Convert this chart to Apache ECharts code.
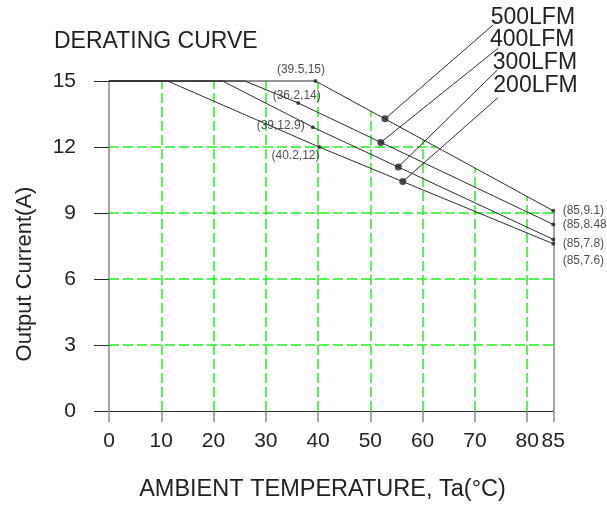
<!DOCTYPE html>
<html>
<head>
<meta charset="utf-8">
<script src="https://cdn.jsdelivr.net/npm/echarts@6/dist/echarts.min.js"></script>
<style>html,body{margin:0;padding:0;background:#fff}#c{width:607px;height:506px}</style>
</head>
<body>
<div id="c"></div>
<script>
// ---- data ----
const xTicks = [0, 10, 20, 30, 40, 50, 60, 70, 80, 85];
const yTicks = [0, 3, 6, 9, 12, 15];
const gridX = [10, 20, 30, 40, 50, 60, 70, 80];
const gridY = [3, 6, 9, 12];
const curveNames = ['500LFM', '400LFM', '300LFM', '200LFM'];
const curve500 = [[0, 15], [39.5, 15], [85, 9.1]];
const curve400 = [[0, 15], [26, 15], [36.2, 14], [85, 8.48]];
const curve300 = [[0, 15], [21.7, 15], [39, 12.9], [85, 7.8]];
const curve200 = [[0, 15], [11.2, 15], [40.2, 12], [85, 7.6]];
const labeledPoints = [[39.5, 15], [36.2, 14], [39, 12.9], [40.2, 12], [85, 9.1], [85, 8.48], [85, 7.8], [85, 7.6]];
const legendAnchors = [[52.8, 13.28], [52, 12.21], [55.35, 11.09], [56.2, 10.43]];
const legendLeaderStarts = [[73.5, 17.55], [74.5, 16.5], [74.3, 15.5], [74.4, 14.24]];

// ---- styling (kept apart from data) ----
const labelOffsets = [[-14.5, -11], [-1.5, -7.5], [-32.2, -1.5], [-23.6, 8.7], [9.4, 0], [9.4, 0.6], [9.4, 3.9], [9.4, 17.2]];
const legendTextPos = [[490.7, 17.3], [490, 40], [492.7, 62.3], [493.3, 86]];
const FONT = '"Liberation Sans", Arial, sans-serif';
const GREEN = '#22ee22';
const INK = '#2b2b2b';

function curveAt(curve, x) {
  for (let i = 0; i < curve.length - 1; i++) {
    const a = curve[i], b = curve[i + 1];
    if (x >= a[0] && x <= b[0]) return a[1] + (b[1] - a[1]) * (x - a[0]) / (b[0] - a[0]);
  }
  return curve[curve.length - 1][1];
}
function curveXAt(curve, y) {
  for (let i = 0; i < curve.length - 1; i++) {
    const a = curve[i], b = curve[i + 1];
    if (a[1] !== b[1] && y <= Math.max(a[1], b[1]) && y >= Math.min(a[1], b[1]))
      return a[0] + (b[0] - a[0]) * (y - a[1]) / (b[1] - a[1]);
  }
  return 85;
}

const gridLines = [];
gridX.forEach(x => gridLines.push({ coords: [[x, 0], [x, Math.min(15, curveAt(curve500, x))]] }));
gridY.forEach(y => gridLines.push({ coords: [[0, y], [Math.min(85, curveXAt(curve500, y)), y]] }));

const chart = echarts.init(document.getElementById('c'), null, { renderer: 'canvas' });

const curveSeries = [curve500, curve400, curve300, curve200].map((d, i) => ({
  name: curveNames[i], type: 'line', data: d, symbol: 'none', clip: false, z: 5,
  lineStyle: { color: INK, width: 1 }, silent: true
}));

chart.setOption({
  animation: false,
  grid: { left: 109, right: 53.7, top: 81, bottom: 95, containLabel: false },
  xAxis: {
    type: 'value', min: 0, max: 85,
    axisLine: { show: true, lineStyle: { color: INK, width: 1 } },
    axisTick: { show: true, customValues: xTicks, length: 11, lineStyle: { color: '#888', width: 1.5 } },
    axisLabel: { customValues: xTicks, margin: 20, fontSize: 21, fontFamily: FONT, color: '#222' },
    splitLine: { show: false }
  },
  yAxis: {
    type: 'value', min: 0, max: 15, interval: 3,
    axisLine: { show: true, lineStyle: { color: '#888', width: 1.5 } },
    axisTick: { show: true, length: 15, lineStyle: { color: INK, width: 1 } },
    axisLabel: { margin: 33, fontSize: 21, fontFamily: FONT, color: '#222' },
    splitLine: { show: false }
  },
  graphic: [
    { type: 'text', style: { text: 'DERATING CURVE', x: 54, y: 42, font: '23px ' + FONT, fill: '#222', verticalAlign: 'middle' } },
    { type: 'text', x: 25, y: 274, rotation: Math.PI / 2, style: { text: 'Output Current(A)', x: 0, y: 0, font: '22px ' + FONT, fill: '#222', align: 'center', verticalAlign: 'middle' } },
    { type: 'text', style: { text: 'AMBIENT TEMPERATURE, Ta(°C)', x: 322.5, y: 490, font: '23.5px ' + FONT, fill: '#222', align: 'center', verticalAlign: 'middle' } }
  ].concat(curveNames.map((n, i) => ({
    type: 'text', style: { text: n, x: legendTextPos[i][0], y: legendTextPos[i][1], font: '23px ' + FONT, fill: '#222', verticalAlign: 'middle' }
  }))),
  series: [
    {
      type: 'lines', coordinateSystem: 'cartesian2d', data: gridLines, z: 2, silent: true,
      lineStyle: { color: GREEN, width: 1.5, type: [10, 4], opacity: 1 }
    },
    {
      type: 'lines', coordinateSystem: 'cartesian2d', z: 3, silent: true,
      data: [{ coords: [[85, 0], [85, labeledPoints[4][1]]] }],
      lineStyle: { color: '#888', width: 1.5, opacity: 1 }
    },
    ...curveSeries,
    {
      type: 'lines', coordinateSystem: 'cartesian2d', z: 6, clip: false, silent: true,
      data: legendAnchors.map((p, i) => ({ coords: [legendLeaderStarts[i], p] })),
      lineStyle: { color: INK, width: 1, opacity: 1 }
    },
    {
      type: 'scatter', data: legendAnchors, symbolSize: 7, z: 7, clip: false, silent: true,
      itemStyle: { color: '#222' }
    },
    {
      type: 'scatter', symbolSize: 4, z: 8, clip: false, silent: true,
      itemStyle: { color: '#222' },
      data: labeledPoints.map((p, i) => ({
        value: p,
        label: {
          show: true, position: 'inside', offset: labelOffsets[i],
          align: i >= 4 ? 'left' : 'center', verticalAlign: 'middle',
          formatter: '(' + p[0] + ',' + p[1] + ')',
          fontSize: 12, fontFamily: FONT, color: '#222'
        }
      }))
    }
  ]
});
</script>
</body>
</html>
